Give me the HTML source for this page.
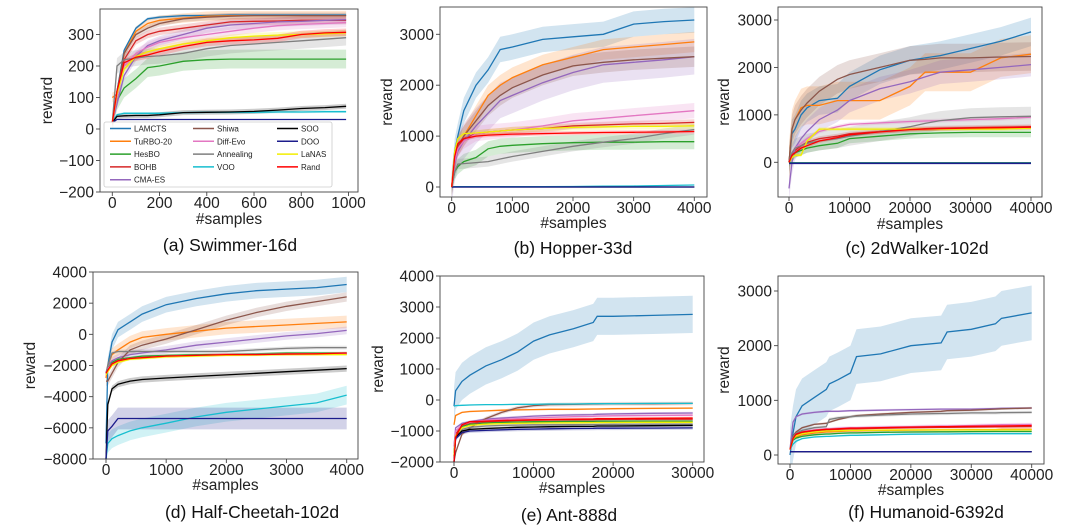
<!DOCTYPE html>
<html><head><meta charset="utf-8"><style>
html,body{margin:0;padding:0;background:#fff;}
svg{display:block;font-family:"Liberation Sans","DejaVu Sans",sans-serif;}
</style></head><body>
<svg id="fig" width="1080" height="526" viewBox="0 0 1080 526" xmlns="http://www.w3.org/2000/svg"></svg>
<script>
const seriesNames=["LAMCTS","TuRBO-20","HesBO","BOHB","CMA-ES","Shiwa","Diff-Evo","Annealing","VOO","SOO","DOO","LaNAS","Rand"];
const seriesColors=["#1f77b4","#ff7f0e","#2ca02c","#d62728","#9467bd","#8c564b","#e377c2","#7f7f7f","#17becf","#000000","#1c1c8c","#f2ee00","#ff0000"];

// (a) Swimmer-16d
const aX=[0,20,50,100,150,200,300,400,500,600,700,800,900,990];
const aY=[
[20,120,250,320,350,355,360,360,362,362,362,362,362,362],
[100,110,240,310,335,345,352,358,360,360,360,360,360,360],
[20,90,130,160,195,200,215,220,222,222,222,222,222,222],
[20,100,220,280,300,310,320,330,340,342,343,345,345,345],
[20,80,170,230,265,280,300,320,330,335,340,342,345,347],
[20,120,240,300,320,335,350,355,358,360,360,360,360,360],
[20,100,200,240,260,275,290,300,310,320,328,332,335,338],
[20,200,220,225,230,232,240,255,265,270,275,280,285,290],
[20,45,50,50,50,50,52,53,53,53,54,54,55,55],
[20,40,42,43,43,45,52,53,54,56,60,65,68,72],
[20,30,30,30,30,30,30,30,30,30,30,30,30,30],
[20,110,190,230,245,255,270,280,290,295,298,300,302,305],
[20,120,210,228,235,245,262,275,280,283,288,300,305,307]];
const aBand=[5,15,30,12,15,10,15,25,4,8,1,10,12];

// (b) Hopper-33d
const bX=[0,50,100,200,400,600,800,1000,1500,2000,2500,3000,3500,4000];
const bY=[
[0,700,1000,1500,2000,2300,2700,2750,2900,2950,3000,3200,3250,3280],
[0,500,800,1000,1400,1800,2000,2150,2400,2550,2700,2750,2800,2850],
[0,300,400,500,580,750,800,820,850,870,880,880,890,890],
[0,500,800,950,1050,1080,1100,1120,1150,1200,1220,1240,1250,1270],
[0,450,700,900,1200,1450,1700,1800,2050,2250,2400,2450,2500,2560],
[0,500,800,1000,1300,1600,1800,1950,2200,2380,2450,2500,2530,2560],
[0,500,750,900,1050,1080,1100,1120,1200,1300,1350,1400,1450,1500],
[0,300,450,460,480,500,550,600,700,800,880,950,1050,1130],
[0,5,5,5,5,5,5,5,5,10,15,20,30,40],
[0,0,0,0,0,0,0,0,0,0,0,0,0,0],
[0,0,0,0,0,0,0,0,0,0,0,0,0,0],
[0,700,950,1050,1060,1080,1100,1120,1150,1170,1180,1190,1190,1200],
[0,600,850,950,1000,1020,1030,1040,1050,1060,1070,1075,1080,1090]];
const bBand=[250,200,150,60,350,200,150,100,10,0,0,60,40];

// (c) 2dWalker-102d
const cX=[0,500,1000,2000,3000,5000,8000,10000,15000,20000,22500,25000,30000,35000,40000];
const cY=[
[0,600,700,1000,1150,1300,1350,1600,1950,2150,2200,2250,2400,2550,2750],
[0,700,900,1150,1200,1200,1300,1300,1300,1600,1900,1900,1900,2200,2280],
[0,100,200,250,300,350,400,500,550,600,610,620,630,630,630],
[0,150,250,350,420,500,550,600,650,700,710,720,730,740,750],
[-550,0,300,500,650,900,1100,1300,1550,1700,1800,1900,1950,2000,2060],
[0,700,900,1100,1250,1500,1750,1850,2000,2150,2170,2200,2200,2220,2230],
[0,200,300,400,500,650,750,800,830,860,870,880,900,920,950],
[0,200,300,350,400,450,500,550,650,750,820,880,940,960,970],
[-10,-10,-10,-10,-10,-10,-10,-10,-10,-10,-10,-10,-10,-10,-10],
[-20,-20,-20,-20,-20,-20,-20,-20,-20,-20,-20,-20,-20,-20,-20],
[-25,-25,-25,-25,-25,-25,-25,-25,-25,-25,-25,-25,-25,-25,-25],
[0,100,150,150,450,700,700,700,700,700,700,700,700,700,720],
[0,150,200,300,350,450,520,580,640,690,700,710,720,730,740]];
const cBand=[300,400,100,50,250,300,40,200,0,0,0,40,40];

// (d) Half-Cheetah-102d
const dX=[0,30,100,200,400,600,1000,1500,2000,2500,3000,3500,4000];
const dY=[
[-7000,-2000,-500,300,800,1300,1900,2300,2600,2800,2900,3000,3200],
[-2800,-2000,-1300,-1000,-500,-200,0,200,400,500,600,700,800],
[-2500,-2200,-1800,-1600,-1500,-1400,-1350,-1300,-1300,-1250,-1200,-1200,-1200],
[-2500,-2300,-1900,-1700,-1550,-1500,-1400,-1350,-1300,-1300,-1250,-1250,-1250],
[-2500,-2000,-1700,-1500,-1300,-1200,-1000,-700,-500,-300,-100,50,250],
[-3000,-3000,-2500,-1800,-1000,-700,-300,300,900,1400,1800,2100,2400],
[-2400,-2200,-1900,-1700,-1550,-1500,-1400,-1350,-1300,-1280,-1260,-1250,-1240],
[-2500,-2000,-1200,-1100,-1100,-1100,-1100,-1100,-1100,-1000,-900,-850,-850],
[-8000,-7000,-6700,-6500,-6200,-6000,-5700,-5300,-5000,-4800,-4600,-4400,-3900],
[-8000,-4500,-3500,-3200,-3000,-2900,-2800,-2700,-2600,-2500,-2400,-2300,-2200],
[-8000,-6200,-5900,-5400,-5400,-5400,-5400,-5400,-5400,-5400,-5400,-5400,-5400],
[-2600,-2400,-2000,-1800,-1600,-1550,-1450,-1400,-1350,-1330,-1300,-1300,-1300],
[-2500,-2300,-1900,-1700,-1550,-1500,-1400,-1350,-1300,-1300,-1270,-1250,-1200]];
const dBand=[500,400,80,80,250,300,80,120,600,200,700,80,80];

// (e) Ant-888d
const eX=[0,200,1000,2000,4000,6000,8000,10000,12000,15000,17500,18000,20000,25000,30000];
const eY=[
[-200,300,600,800,1100,1300,1550,1900,2100,2300,2500,2700,2700,2730,2760],
[-800,-500,-400,-370,-350,-330,-320,-310,-300,-300,-290,-290,-280,-270,-260],
[-1700,-1100,-850,-780,-740,-720,-710,-700,-700,-690,-690,-685,-685,-680,-680],
[-1800,-1100,-820,-740,-700,-680,-660,-650,-645,-640,-635,-630,-625,-620,-620],
[-1500,-900,-750,-700,-620,-580,-550,-520,-500,-480,-470,-460,-450,-430,-420],
[-2000,-1700,-1100,-900,-600,-400,-250,-180,-150,-140,-130,-130,-120,-120,-110],
[-1500,-1000,-800,-720,-650,-620,-600,-580,-560,-540,-530,-520,-510,-500,-490],
[-1800,-1200,-950,-880,-840,-820,-810,-800,-800,-795,-790,-790,-785,-780,-780],
[-200,-180,-170,-160,-150,-150,-140,-140,-130,-130,-120,-120,-120,-110,-110],
[-2000,-1200,-1000,-950,-920,-900,-880,-870,-860,-850,-850,-840,-840,-830,-820],
[-2000,-1250,-1050,-1000,-980,-960,-950,-940,-930,-920,-915,-910,-910,-905,-900],
[-1800,-1150,-900,-820,-780,-760,-750,-745,-740,-735,-730,-730,-725,-720,-720],
[-2000,-1200,-800,-700,-680,-660,-650,-640,-630,-620,-610,-600,-600,-590,-580]];
const eBand=[600,30,40,40,40,60,40,40,20,40,60,40,40];

// (f) Humanoid-6392d
const fX=[0,500,1000,2000,4000,6000,6500,8000,10000,11000,15000,20000,25000,26000,30000,34000,35000,40000];
const fY=[
[0,400,700,900,1050,1200,1300,1380,1500,1800,1850,2000,2050,2250,2300,2400,2500,2600],
[100,280,330,370,400,420,420,430,440,440,450,455,460,460,465,465,470,470],
[100,270,310,340,370,385,385,395,405,405,415,420,425,425,428,430,430,430],
[100,300,370,410,440,460,460,470,480,480,490,500,505,505,510,515,515,520],
[100,600,700,750,780,800,800,800,810,810,820,830,840,840,840,850,855,860],
[100,350,420,500,560,580,600,650,700,720,750,780,800,810,820,840,845,860],
[100,320,390,430,460,480,480,490,500,500,510,520,530,530,540,550,555,560],
[100,330,400,450,500,520,650,680,700,710,730,750,760,760,770,770,775,780],
[100,200,250,300,330,340,340,350,360,360,370,380,385,385,390,390,390,390],
[60,60,60,60,60,60,60,60,60,60,60,60,60,60,60,60,60,60],
[60,60,60,60,60,60,60,60,60,60,60,60,60,60,60,60,60,60],
[100,290,350,390,420,440,440,445,450,450,455,460,460,460,460,460,460,460],
[100,300,380,420,450,470,470,480,490,490,500,510,520,520,525,530,530,540]];
const fBand=[500,20,20,20,20,20,30,30,15,0,0,20,20];

const NS="http://www.w3.org/2000/svg";
const svg=document.getElementById('fig');
function mk(tag,attrs,parent,text){const e=document.createElementNS(NS,tag);for(const k in attrs)e.setAttribute(k,attrs[k]);if(text!==undefined)e.textContent=text;(parent||svg).appendChild(e);return e;}
function fmt(v){return v<0?"\u2212"+Math.abs(v):String(v);}

const panels=[
{id:"a",title:"(a) Swimmer-16d",box:[100,9,358,192],xm:[0,112.3,1000,348.5],ym:[0,129,300,34.5],xt:[0,200,400,600,800,1000],yt:[-200,-100,0,100,200,300],xs:aX,ys:aY,bd:aBand,yl:52,xlY:224,tX:230,tY:251},
{id:"b",title:"(b) Hopper-33d",box:[440,7,707,197],xm:[0,451.7,4000,694.3],ym:[0,187,3000,34.3],xt:[0,1000,2000,3000,4000],yt:[0,1000,2000,3000],xs:bX,ys:bY,bd:bBand,yl:392,xlY:228,tX:573,tY:254},
{id:"c",title:"(c) 2dWalker-102d",box:[778,7,1042,197],xm:[0,789,40000,1031],ym:[0,162.3,3000,20],xt:[0,10000,20000,30000,40000],yt:[0,1000,2000,3000],xs:cX,ys:cY,bd:cBand,yl:729,xlY:229,tX:917,tY:254},
{id:"d",title:"(d) Half-Cheetah-102d",box:[93,272,358,459],xm:[0,106,4000,346.7],ym:[4000,272,-8000,459],xt:[0,1000,2000,3000,4000],yt:[-8000,-6000,-4000,-2000,0,2000,4000],xs:dX,ys:dY,bd:dBand,yl:35,xlY:490,tX:252,tY:518},
{id:"e",title:"(e) Ant-888d",box:[440,276,704,462],xm:[0,454,30000,692.7],ym:[4000,276,-2000,462],xt:[0,10000,20000,30000],yt:[-2000,-1000,0,1000,2000,3000,4000],xs:eX,ys:eY,bd:eBand,yl:383,xlY:493,tX:569,tY:521},
{id:"f",title:"(f) Humanoid-6392d",box:[778,276,1044,464],xm:[0,790,40000,1031.7],ym:[0,455,3000,291],xt:[0,10000,20000,30000,40000],yt:[0,1000,2000,3000],xs:fX,ys:fY,bd:fBand,yl:729,xlY:495,tX:926,tY:518}
];

const defs=mk('defs',{});
panels.forEach(p=>{
  const [x0,y0,x1,y1]=p.box;
  const sx=v=>p.xm[1]+(v-p.xm[0])*(p.xm[3]-p.xm[1])/(p.xm[2]-p.xm[0]);
  const sy=v=>p.ym[1]+(v-p.ym[0])*(p.ym[3]-p.ym[1])/(p.ym[2]-p.ym[0]);
  const g=mk('g',{});
  
  
  const cp=mk('clipPath',{id:'clip'+p.id},defs);
  mk('rect',{x:x0,y:y0,width:x1-x0,height:y1-y0},cp);
  const plot=mk('g',{'clip-path':'url(#clip'+p.id+')'},g);
  
  
  p.ys.forEach((ys,i)=>{
    const w=p.bd[i]; if(!w) return;
    let up=[],dn=[];
    ys.forEach((v,k)=>{up.push(sx(p.xs[k]).toFixed(1)+","+sy(v+w).toFixed(1));dn.unshift(sx(p.xs[k]).toFixed(1)+","+sy(v-w).toFixed(1));});
    const b=mk('polygon',{points:up.concat(dn).join(" "),fill:seriesColors[i],'fill-opacity':0.2,stroke:'none'},plot);
    
    
  });
  p.ys.forEach((ys,i)=>{
    const pts=ys.map((v,k)=>sx(p.xs[k]).toFixed(1)+","+sy(v).toFixed(1)).join(" ");
    const l=mk('polyline',{points:pts,fill:'none',stroke:seriesColors[i],'stroke-width':1.3},plot);
    
    
  });
  const fr=mk('rect',{x:x0,y:y0,width:x1-x0,height:y1-y0,fill:'none',stroke:'#444','stroke-width':0.9},g);
  
  
  p.xt.forEach(v=>{
    const X=sx(v);
    mk('line',{x1:X,x2:X,y1:y1,y2:y1+4,stroke:'#444','stroke-width':0.9},g);
    const t=mk('text',{x:X,y:y1+16,'font-size':15.5,'text-anchor':'middle',fill:'#222'},g,fmt(v));
    
    
  });
  p.yt.forEach(v=>{
    const Y=sy(v);
    mk('line',{x1:x0-4,x2:x0,y1:Y,y2:Y,stroke:'#444','stroke-width':0.9},g);
    const t=mk('text',{x:x0-6,y:Y+5.5,'font-size':15.5,'text-anchor':'end',fill:'#222'},g,fmt(v));
    
    
  });
  const xl=mk('text',{x:(x0+x1)/2,y:p.xlY,'font-size':15.5,'text-anchor':'middle',fill:'#222'},g,'#samples');
  
  
  const yc=(y0+y1)/2;
  const yl=mk('text',{x:p.yl,y:yc,'font-size':15.5,'text-anchor':'middle',fill:'#222',transform:'rotate(-90 '+p.yl+' '+yc+')'},g,'reward');
  
  
  const tt=mk('text',{x:p.tX,y:p.tY,'font-size':17.5,'text-anchor':'middle',fill:'#111'},g,p.title);
  
  
});

const lg=mk('g',{});


mk('rect',{x:104,y:122,width:228,height:65,fill:'#fff','fill-opacity':0.85,stroke:'#ccc','stroke-width':0.8,rx:2},lg);
const colX=[110,193,277];
seriesNames.forEach((n,i)=>{
  const col=i<5?0:(i<9?1:2);
  const row=i<5?i:(i<9?i-5:i-9);
  const y=128.5+row*12.8;
  const e=mk('g',{},lg);
  
  
  mk('line',{x1:colX[col],x2:colX[col]+21,y1:y,y2:y,stroke:seriesColors[i],'stroke-width':1.5},e);
  mk('text',{x:colX[col]+24,y:y+3,'font-size':8,fill:'#222'},e,n);
});
</script>
</body></html>
